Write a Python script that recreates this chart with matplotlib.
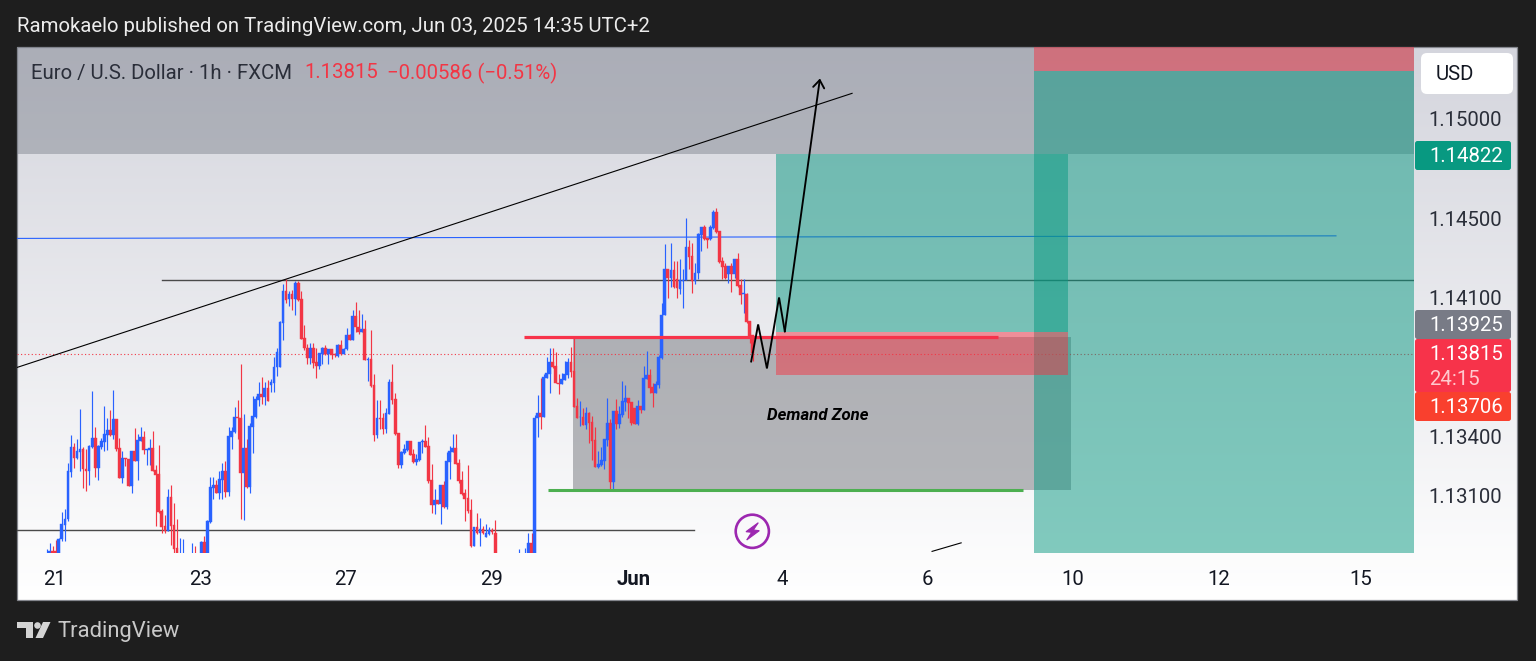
import numpy as np
import matplotlib
matplotlib.use("Agg")
import matplotlib.pyplot as plt
from matplotlib.patches import FancyBboxPatch, Rectangle, Circle, Polygon

plt.rcParams['font.family'] = ['Roboto', 'DejaVu Sans']

# Hourly EURUSD candles, prices in 1e-5 USD
high_pts = [
112828,112859,112845,112875,112887,113017,113033,113262,113404,113367,
113383,113535,113346,113333,113353,113626,113447,113353,113392,113552,
113489,113530,113631,113488,113392,113323,113288,113282,113323,113439,
113409,113444,113424,113333,113383,113424,113252,113353,113033,113000,
113131,113151,113064,112980,112884,112879,112790,112800,112859,112845,
112800,112870,112896,112975,113192,113192,113176,113222,113262,113272,
113444,113444,113545,113580,113762,113510,113383,113464,113602,113602,
113673,113698,113673,113683,113686,113797,113846,113980,114165,114191,
114132,114137,114182,114182,114132,113958,113863,113868,113871,113846,
113820,113851,113857,113837,113841,113817,113863,113884,113846,113947,
113913,114034,114074,114034,114014,113984,113797,113933,113711,113580,
113580,113518,113543,113686,113762,113615,113417,113324,113361,113375,
113373,113333,113308,113370,113383,113454,113393,113257,113131,113075,
113151,113171,113319,113349,113408,113408,113286,113223,113131,113252,
113080,112939,113010,112985,112946,112958,112942,112936,112974,112800,
112800,112800,112800,112800,112800,112800,112828,112800,112837,112912,
112912,113504,113605,113694,113711,113800,113845,113845,113824,113711,
113719,113777,113795,113851,113896,113593,113576,113541,113548,113521,
113501,113447,113322,113346,113386,113590,113484,113524,113585,113551,
113676,113655,113590,113570,113539,113581,113549,113753,113827,113739,
113669,113677,113807,114073,114367,114241,114372,114281,114281,114291,
114241,114498,114387,114372,114271,114426,114453,114463,114401,114463,
114538,114549,114433,114301,114271,114258,114274,114291,114325,114194,
114190,114120,113978,113911]
low_pts = [
112760,112770,112770,112760,112770,112870,112870,112971,113192,113240,
113286,113224,113140,113121,113151,113341,113192,113176,113333,113325,
113330,113400,113383,113325,113187,113161,113249,113146,113113,113272,
113176,113373,113308,113252,113252,113222,112946,113013,112909,112909,
112919,112849,112810,112770,112750,112750,112760,112760,112760,112760,
112760,112770,112770,112770,112960,113084,113111,113084,113084,113094,
113097,113333,113417,113383,112980,112975,113136,113111,113316,113493,
113552,113560,113555,113575,113622,113622,113703,113750,113884,114073,
114056,114036,114009,114081,113889,113832,113762,113762,113745,113693,
113736,113762,113810,113762,113787,113800,113800,113810,113812,113834,
113884,113884,113925,113913,113925,113784,113678,113647,113373,113390,
113434,113408,113413,113509,113560,113403,113237,113237,113308,113324,
113302,113262,113252,113274,113316,113343,113165,113010,113005,113055,
112954,113037,113030,113181,113318,113257,113165,113101,112971,113013,
112840,112843,112904,112845,112904,112889,112900,112904,112761,112760,
112760,112760,112760,112760,112760,112760,112760,112760,112760,112770,
112770,112770,113396,113433,113497,113694,113615,113745,113666,113610,
113660,113682,113694,113699,113544,113492,113450,113454,113433,113363,
113279,113242,113237,113248,113232,113349,113124,113134,113437,113442,
113497,113526,113492,113454,113459,113454,113517,113529,113686,113618,
113544,113615,113642,113787,114009,114098,114153,114148,114096,114115,
114046,114185,114241,114120,114165,114190,114333,114389,114350,114387,
114443,114426,114274,114194,114190,114173,114126,114199,114153,114064,
114019,113972,113867,113778]
open_pts = [
112780,112790,112818,112818,112790,112879,112949,112980,113219,113343,
113288,113319,113333,113235,113222,113343,113388,113237,113345,113368,
113404,113429,113404,113488,113338,113187,113288,113282,113146,113323,
113272,113373,113393,113328,113328,113338,113227,113207,113020,112944,
112919,113091,112949,112833,112770,112770,112780,112770,112770,112790,
112770,112790,112864,112790,112965,113136,113151,113111,113176,113222,
113116,113393,113419,113494,113489,113212,113338,113141,113444,113494,
113580,113610,113595,113641,113656,113666,113750,113750,113972,114130,
114090,114115,114090,114170,114090,113893,113846,113792,113842,113775,
113752,113814,113846,113814,113837,113812,113804,113857,113814,113837,
113908,113884,114004,113952,113925,113938,113784,113787,113656,113403,
113489,113489,113434,113509,113671,113585,113413,113252,113313,113328,
113373,113308,113267,113277,113368,113373,113348,113176,113050,113075,
113055,113151,113040,113267,113318,113338,113262,113176,113111,113085,
113025,112843,112939,112909,112929,112889,112904,112924,112912,112790,
112770,112770,112770,112770,112770,112770,112770,112770,112770,112780,
112862,112790,113492,113518,113497,113694,113711,113771,113753,113669,
113660,113682,113706,113771,113728,113549,113496,113497,113454,113514,
113469,113378,113242,113252,113272,113378,113464,113166,113524,113459,
113504,113570,113590,113570,113539,113459,113549,113529,113686,113706,
113645,113615,113655,113792,114009,114241,114199,114236,114190,114140,
114182,114185,114352,114308,114180,114221,114412,114453,114397,114392,
114448,114528,114433,114281,114256,114216,114256,114216,114291,114160,
114115,114115,113978,113911]
close_pts = [
112800,112822,112790,112780,112882,112955,112983,113222,113343,113288,
113323,113333,113232,113222,113348,113388,113237,113348,113373,113409,
113429,113404,113484,113333,113187,113288,113282,113146,113323,113272,
113378,113393,113328,113333,113338,113222,113202,113015,112939,112919,
113091,112946,112828,112790,112790,112790,112770,112780,112790,112770,
112790,112864,112790,112970,113141,113151,113111,113182,113222,113116,
113399,113424,113494,113489,113212,113338,113141,113449,113499,113585,
113610,113595,113641,113575,113671,113747,113822,113975,114130,114086,
114115,114090,114170,114086,113889,113842,113792,113842,113770,113752,
113817,113846,113814,113837,113807,113807,113857,113814,113841,113908,
113884,114004,113952,113923,113938,113784,113787,113651,113403,113489,
113484,113434,113514,113671,113580,113408,113252,113318,113333,113373,
113302,113267,113282,113368,113373,113343,113171,113050,113075,113055,
113151,113040,113272,113323,113338,113257,113171,113106,113080,113020,
112843,112939,112909,112932,112909,112909,112924,112914,112778,112770,
112780,112780,112780,112780,112780,112780,112790,112790,112790,112862,
112780,113492,113518,113497,113699,113716,113771,113750,113666,113660,
113686,113711,113771,113724,113544,113492,113497,113454,113514,113464,
113373,113242,113257,113277,113383,113464,113166,113524,113459,113509,
113575,113590,113565,113464,113459,113549,113529,113691,113706,113640,
113615,113660,113797,114012,114241,114199,114236,114150,114145,114185,
114185,114352,114303,114180,114221,114417,114453,114392,114387,114453,
114528,114427,114276,114251,114195,114256,114216,114291,114155,114110,
114120,113973,113906,113817]

x_tick_bars = [2.7, 50.7, 98.7, 146.7, 193.7, 242.7, 290.7, 338.7, 386.7, 433.7]
x_tick_labels = ['21', '23', '27', '29', 'Jun', '4', '6', '10', '12', '15']
y_tick_values = [1.15000, 1.14500, 1.14100, 1.13400, 1.13100]

last_price = 1.13815
target_price = 1.14822
entry_price = 1.13925
stop_price = 1.13706
big_target_price = 1.15240

zigzag_bars = [232.5, 234.8, 237.7, 241.7, 243.6]
zigzag_prices = [1.13776, 1.13963, 1.13741, 1.14099, 1.13928]
arrow_end = (255.2, 1.15204)

TEAL = '#089981'
RED = '#f23645'
BLUE = '#2962ff'
GREY = '#787b86'
DARK = '#131722'
FS = 14.65

W, H = 1536, 661
fig = plt.figure(figsize=(W / 100, H / 100), dpi=100, facecolor='#1e1e1e')

# panel background
bg = fig.add_axes([0, 0, 1, 1], zorder=0)
bg.set_xlim(0, W); bg.set_ylim(H, 0); bg.axis('off')
grad = np.linspace(0, 1, 256)[:, None]
top = np.array([212, 213, 221]) / 255
img = (top + (1 - top) * grad)[:, None, :].reshape(256, 1, 3)
bg.imshow(img, extent=[17, 1517, 600, 47], aspect='auto', zorder=0, interpolation='bilinear')
bg.set_xlim(0, W); bg.set_ylim(H, 0)
bg.add_patch(Rectangle((17, 47), 1500, 553, fill=False, ec='#85878e', lw=0.9, zorder=1))

# main price axes
ax = fig.add_axes([17 / W, 1 - 553 / H, (1414 - 17) / W, (553 - 47) / H], zorder=1)
ax.patch.set_alpha(0)
for s in ax.spines.values():
    s.set_visible(False)
ax.set_xlim((17 - 46.7) / 3.03, (1414 - 46.7) / 3.03)
ax.set_ylim(1.15 - 433.5 / 19820 - 0.00003, 1.15 + 72.5 / 19820 - 0.00003)
ax.set_xticks(x_tick_bars)
ax.set_xticklabels(x_tick_labels)
ax.yaxis.tick_right()
ax.set_yticks(y_tick_values)
ax.set_yticklabels([f'{v:.5f}' for v in y_tick_values])
ax.tick_params(axis='x', length=0, pad=12.5, labelsize=FS, labelcolor=DARK)
ax.tick_params(axis='y', length=0, pad=10.2, labelsize=FS, labelcolor='#2a2e39')
ax.get_xticklabels()[4].set_fontweight('bold')

xmax = ax.get_xlim()[1]
xmin = ax.get_xlim()[0]
ymin = ax.get_ylim()[0]
ymax = ax.get_ylim()[1]

# zones
ax.axhspan(target_price, ymax, fc='#7a7f8a', alpha=0.45, lw=0, zorder=1)
ax.add_patch(Rectangle((173.7, 1.13126), 338 - 173.7, 1.13898 - 1.13126, fc='#74767c', alpha=0.5, lw=0, zorder=1.5))

# reference lines
ax.plot([xmin, 425.5], [1.14397, 1.14410], color=BLUE, lw=0.8, zorder=2)
ax.plot([38, xmax], [1.14185, 1.14185], color='#4a4a4a', lw=1.0, zorder=2)
ax.plot([xmin, 213.6], [1.12924, 1.12924], color='#4a4a4a', lw=1.0, zorder=2)
ax.plot([292.2, 301.8], [1.12818, 1.12861], color='black', lw=0.8, zorder=2)
ax.plot([xmin, xmax], [last_price, last_price], color=RED, lw=0.8, ls=(0, (1, 2.2)), zorder=2)

# position boxes
ax.add_patch(Rectangle((325.8, ymin), 452 - 325.8, big_target_price - ymin, fc=TEAL, alpha=0.5, lw=0, zorder=3))
ax.add_patch(Rectangle((325.8, big_target_price), 452 - 325.8, ymax - big_target_price, fc=RED, alpha=0.5, lw=0, zorder=3))
ax.add_patch(Rectangle((240.7, entry_price), 337 - 240.7, target_price - entry_price, fc=TEAL, alpha=0.5, lw=0, zorder=3))
ax.add_patch(Rectangle((240.7, stop_price), 337 - 240.7, entry_price - stop_price, fc=RED, alpha=0.5, lw=0, zorder=3))

# candles
o = np.array(open_pts) / 1e5
h = np.array(high_pts) / 1e5
l = np.array(low_pts) / 1e5
c = np.array(close_pts) / 1e5
bars = np.arange(len(o))
cols = [BLUE if cc >= oo else RED for oo, cc in zip(o, c)]
ax.vlines(bars, l, h, colors=cols, lw=0.85, zorder=4)
ax.bar(bars, np.abs(c - o), bottom=np.minimum(o, c), width=0.9, color=cols, edgecolor=cols, lw=0.3, zorder=4.1)

# drawings
ax.plot([-9.8, 265.8], [1.13746, 1.15129], color='black', lw=0.8, zorder=5)
ax.plot([165.4, 322.2], [1.13128, 1.13128], color='#4caf50', lw=2.2, zorder=5, solid_capstyle='butt')
ax.plot([157.5, 314], [1.13900, 1.13900], color='#f7334a', lw=2.3, zorder=5, solid_capstyle='butt')
ax.plot(zigzag_bars, zigzag_prices, color='black', lw=1.35, zorder=6, solid_joinstyle='miter')
ax.annotate('', xy=arrow_end, xytext=(zigzag_bars[-1], zigzag_prices[-1]), zorder=6,
            arrowprops=dict(arrowstyle='->,head_length=0.55,head_width=0.4', lw=1.35, color='black',
                            shrinkA=0, shrinkB=0))
ax.text(254.6, 1.13505, 'Demand Zone', fontsize=12.1, fontweight='bold', fontstyle='italic',
        ha='center', va='center', color='black', zorder=6)

# overlay chrome
ov = fig.add_axes([0, 0, 1, 1], zorder=2)
ov.set_xlim(0, W); ov.set_ylim(H, 0); ov.axis('off'); ov.patch.set_alpha(0)

ov.text(17, 27, 'Ramokaelo published on TradingView.com, Jun 03, 2025 14:35 UTC+2',
        color='#ececec', fontsize=FS, va='center', ha='left')
ov.text(31, 73, 'Euro / U.S. Dollar · 1h · FXCM', color='#2a2e39', fontsize=FS, va='center', ha='left')
ov.text(304, 73, '1.13815', color=RED, fontsize=FS, va='center', ha='left')
ov.text(387, 73, '−0.00586 (−0.51%)', color=RED, fontsize=FS, va='center', ha='left')
ov.text(57, 632, 'TradingView', color='#c9c9c9', fontsize=15.8, va='center', ha='left')


def box(x0, y0, x1, y1, color, r=2.5):
    ov.add_patch(FancyBboxPatch((x0 + r, y0 + r), x1 - x0 - 2 * r, y1 - y0 - 2 * r,
                                boxstyle=f'round,pad={r},rounding_size={r}', fc=color, ec='none', lw=0))


box(1421, 53, 1513, 94, 'white', r=6)
ov.text(1436, 75, 'USD', color=DARK, fontsize=FS, va='center', ha='left')
box(1415, 141, 1511, 170, TEAL)
box(1415, 310, 1511, 339, GREY)
box(1415, 339, 1511, 392, '#f7334a')
box(1415, 392, 1511, 421, '#f9402e')
for txt, y, col in [(f'{target_price:.5f}', 156.5, 'white'), (f'{entry_price:.5f}', 325.5, 'white'),
                    (f'{last_price:.5f}', 354.5, 'white'), ('24:15', 379.5, '#ffc9ce'),
                    (f'{stop_price:.5f}', 407.5, 'white')]:
    ov.text(1429.5, y, txt, color=col, fontsize=FS, va='center', ha='left')

# lightning badge
ov.add_patch(Circle((752.3, 531.3), 16.6, fc='none', ec='#9c27b0', lw=1.9))
ov.add_patch(Polygon([(758.3, 522.7), (746, 531.7), (751.7, 532.3), (746.7, 540), (759.3, 530.7), (753.3, 530)],
                     closed=True, fc='#9c27b0', ec='#9c27b0', lw=0.8))

# TradingView logo
logo = '#d4d4d4'
ov.add_patch(Polygon([(17, 622), (33, 622), (33, 638), (26, 638), (26, 628), (17, 628)], closed=True, fc=logo, ec='none'))
ov.add_patch(Circle((37.5, 625.5), 3.3, fc=logo, ec='none'))
ov.add_patch(Polygon([(43, 622), (50.5, 622), (43, 638), (35.5, 638)], closed=True, fc=logo, ec='none'))

fig.savefig('out.png', dpi=100, facecolor=fig.get_facecolor())
